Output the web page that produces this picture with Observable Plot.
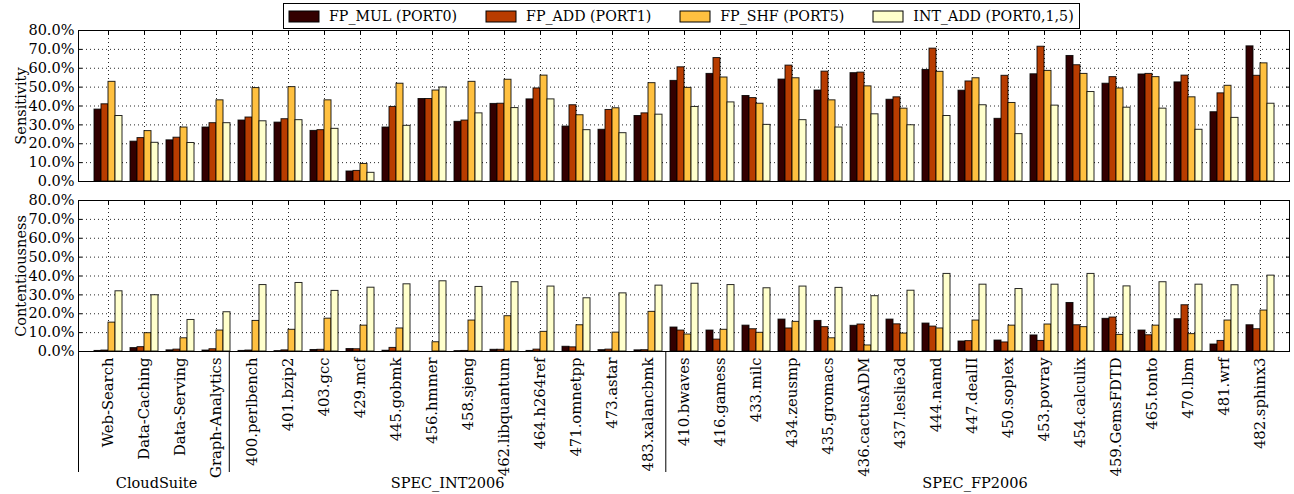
<!DOCTYPE html>
<html><head><meta charset="utf-8">
<script src="https://cdn.jsdelivr.net/npm/d3@7"></script>
<script src="https://cdn.jsdelivr.net/npm/@observablehq/plot@0.6"></script>
<style>
body{margin:0;background:#fff;font-family:"DejaVu Serif",serif;}
#wrap{position:relative;width:1294px;height:494px;overflow:hidden;background:#fff}
#wrap > *{position:absolute;}
#legend{left:283px;top:3px;border:1px solid #000;background:#fff;z-index:5;padding:0 5px;height:26px;display:flex;align-items:center;box-sizing:border-box;white-space:nowrap}
#legend .lg-swatches{margin:0 !important;min-height:0 !important;display:flex;align-items:center;font-family:"DejaVu Serif",serif;font-size:14.2px;color:#000}
#legend .lg-swatch{margin-right:29px !important;display:inline-flex;align-items:center}
#legend .lg-swatch:last-child{margin-right:0 !important}
#legend .lg-swatch > svg{margin-right:10px !important;overflow:visible}
#legend .lg-swatch > svg rect{stroke:#000;stroke-width:1}
</style></head><body><div id="wrap"></div>
<script>
// ---- data ----
const cloudSuite = ["Web-Search", "Data-Caching", "Data-Serving", "Graph-Analytics"];
const specInt = ["400.perlbench", "401.bzip2", "403.gcc", "429.mcf", "445.gobmk", "456.hmmer", "458.sjeng", "462.libquantum", "464.h264ref", "471.omnetpp", "473.astar", "483.xalancbmk"];
const specFp = ["410.bwaves", "416.gamess", "433.milc", "434.zeusmp", "435.gromacs", "436.cactusADM", "437.leslie3d", "444.namd", "447.dealII", "450.soplex", "453.povray", "454.calculix", "459.GemsFDTD", "465.tonto", "470.lbm", "481.wrf", "482.sphinx3"];
const groupNames = ["CloudSuite", "SPEC_INT2006", "SPEC_FP2006"];
const groupMembers = [cloudSuite, specInt, specFp];
const categories = [...cloudSuite, ...specInt, ...specFp];

const series = ["FP_MUL (PORT0)", "FP_ADD (PORT1)", "FP_SHF (PORT5)", "INT_ADD (PORT0,1,5)"];
const seriesColors = ["#330000", "#b83c00", "#ffc040", "#ffffcc"];

// Sensitivity (%)
const sensFpMul = [38.1, 21.1, 21.8, 28.6, 32.3, 31.2, 26.8, 5.3, 28.6, 43.7, 31.6, 41.1, 43.5, 29.1, 27.4, 34.7, 53.3, 57.0, 45.3, 54.0, 48.2, 57.4, 43.3, 59.1, 48.1, 33.2, 56.8, 66.5, 51.8, 56.7, 52.5, 36.7, 71.6];
const sensFpAdd = [40.9, 23.0, 23.2, 30.9, 33.9, 33.0, 27.2, 5.6, 39.5, 43.7, 32.3, 41.2, 49.3, 40.4, 37.9, 36.1, 60.5, 65.4, 44.2, 61.4, 58.2, 57.7, 44.6, 70.4, 53.0, 56.0, 71.4, 61.6, 55.3, 57.0, 56.1, 46.7, 56.0];
const sensFpShf = [52.8, 26.7, 28.6, 43.0, 49.5, 50.0, 43.0, 9.3, 51.8, 48.2, 52.8, 53.9, 56.1, 35.1, 38.8, 52.1, 49.6, 55.1, 41.2, 54.7, 43.0, 50.4, 38.6, 58.1, 54.7, 41.6, 58.6, 57.0, 49.3, 55.3, 44.6, 50.7, 62.6];
const sensIntAdd = [34.7, 20.5, 20.4, 30.9, 31.9, 32.5, 27.9, 4.6, 29.5, 49.8, 36.1, 38.9, 43.5, 27.2, 25.6, 35.4, 39.5, 41.9, 30.0, 32.5, 28.6, 35.6, 29.8, 34.7, 40.4, 25.1, 40.2, 47.4, 39.1, 38.6, 27.4, 33.7, 41.2];

// Contentiousness (%)
const contFpMul = [0.3, 1.8, 0.6, 0.5, 0.3, 0.2, 0.8, 1.3, 0.4, 0.0, 0.2, 0.9, 0.3, 2.5, 0.7, 0.6, 12.7, 11.1, 13.7, 16.9, 16.2, 13.6, 16.9, 14.8, 5.3, 5.8, 8.5, 25.7, 17.3, 11.1, 17.1, 3.7, 13.9];
const contFpAdd = [0.5, 2.3, 1.0, 1.2, 0.5, 0.6, 0.9, 1.2, 1.9, 0.0, 0.3, 0.9, 1.0, 2.2, 1.0, 0.7, 11.1, 6.3, 11.8, 12.2, 12.9, 14.3, 14.4, 13.2, 5.5, 4.8, 5.6, 13.9, 18.0, 8.6, 24.5, 5.6, 11.8];
const contFpShf = [15.3, 9.7, 7.0, 11.1, 16.2, 11.5, 17.4, 13.7, 12.2, 4.9, 16.4, 18.7, 10.4, 13.9, 10.0, 21.0, 9.0, 11.5, 9.9, 15.7, 7.0, 3.2, 9.5, 12.2, 16.4, 13.7, 14.3, 12.9, 8.8, 13.7, 9.2, 16.4, 21.7];
const contIntAdd = [31.9, 29.8, 16.7, 20.8, 35.2, 36.3, 32.1, 33.8, 35.6, 37.2, 34.2, 36.7, 34.4, 28.2, 30.8, 34.9, 35.9, 35.2, 33.5, 34.4, 33.7, 29.3, 32.2, 41.1, 35.4, 33.1, 35.4, 41.1, 34.5, 36.7, 35.4, 35.1, 40.2];

const yTicks = [0, 10, 20, 30, 40, 50, 60, 70, 80];

// ---- build tables ----
function toRows(cols) {
  const rows = [];
  categories.forEach((cat, i) => cols.forEach((col, s) => rows.push({cat, series: series[s], value: col[i]})));
  return rows;
}
const sensRows = toRows([sensFpMul, sensFpAdd, sensFpShf, sensIntAdd]);
const contRows = toRows([contFpMul, contFpAdd, contFpShf, contIntAdd]);

// ---- layout ----
const W = 1294, ML = 78, MR = 5;
const fxPad = 0.145, xPad = 0.458;
const FONT = "DejaVu Serif";
const FS = 14.5, FS_X = 14.8;
const fmt = d => d.toFixed(1) + "%";
const blank = () => "";
const dotted = {stroke: "#000", strokeOpacity: 0.85, strokeWidth: 1, strokeDasharray: "1,3"};
const baseStyle = {fontFamily: FONT, fontSize: FS + "px", color: "#000", background: "transparent", overflow: "visible"};

// background layer: y grid, frame and y axis (not faceted)
function backPanel(label, height, marginTop, marginBottom) {
  return Plot.plot({
    width: W, height, marginLeft: ML, marginRight: MR, marginTop, marginBottom,
    style: baseStyle,
    x: {domain: [0, 1], axis: null},
    y: {domain: [0, 80]},
    marks: [
      Plot.ruleY(yTicks, dotted),
      Plot.frame({stroke: "#000", strokeWidth: 1}),
      Plot.axisY(yTicks, {anchor: "right", tickSize: -4, tickFormat: blank, label: null}),
      Plot.axisY(yTicks, {anchor: "left", tickSize: -4, tickFormat: blank, label: null}),
      Plot.axisY(yTicks, {anchor: "left", tickSize: 0, tickPadding: 4, tickFormat: fmt, fontSize: FS, label, labelAnchor: "center", labelArrow: "none", labelOffset: 63})
    ]
  });
}

// foreground layer: grouped bars faceted by category
function barPanel(rows, height, marginTop, marginBottom, withLabels) {
  const marks = [
    Plot.ruleX(categories, {fx: d => d, x: null, ...dotted}),
    Plot.barY(rows, {fx: "cat", x: "series", y: "value", fill: "series", stroke: "#000", strokeWidth: 1, strokeOpacity: 0.85}),
    Plot.axisFx({anchor: "top", tickSize: -4, tickFormat: blank, label: null})
  ];
  if (withLabels) marks.push(Plot.axisFx({anchor: "bottom", tickRotate: -90, tickSize: 0, tickPadding: 6, fontSize: FS_X, label: null}));
  return Plot.plot({
    width: W, height, marginLeft: ML, marginRight: MR, marginTop, marginBottom,
    style: baseStyle,
    fx: {domain: categories, paddingInner: 0, paddingOuter: fxPad},
    x: {domain: series, paddingInner: 0, paddingOuter: xPad, axis: null},
    y: {domain: [0, 80], axis: null},
    color: {domain: series, range: seriesColors},
    marks
  });
}

const wrap = document.getElementById("wrap");
function place(el, top) { el.style.top = top + "px"; el.style.left = "0px"; wrap.appendChild(el); }

place(backPanel("Sensitivity", 186, 30, 5), 0);
place(barPanel(sensRows, 186, 30, 5, false), 0);
place(backPanel("Contentiousness", 308, 14, 143), 186);
place(barPanel(contRows, 308, 14, 143, true), 186);

// group labels and separators beneath the category labels
let acc = 0;
const groups = groupNames.map((name, i) => {
  const start = acc; acc += groupMembers[i].length;
  return {name, start, end: acc, mid: (start + acc) / 2};
});
const xDomain = [-fxPad, categories.length + fxPad];
const bounds = [xDomain[0], ...groups.slice(1).map(g => g.start)];
const under = Plot.plot({
  width: W, height: 143, marginLeft: ML, marginRight: MR, marginTop: 0, marginBottom: 22,
  style: baseStyle,
  x: {domain: xDomain, axis: null},
  marks: [
    Plot.ruleX(bounds, {stroke: "#000", strokeWidth: 1}),
    Plot.text(groups, {x: "mid", text: "name", frameAnchor: "bottom", dy: 15, fontSize: FS, fill: "#000"})
  ]
});
place(under, 351);

// legend
const lgWrap = document.createElement("div");
lgWrap.id = "legend";
const lg = Plot.legend({color: {domain: series, range: seriesColors}, legend: "swatches", swatchWidth: 30, swatchHeight: 11, className: "lg"});
lgWrap.appendChild(lg);
wrap.appendChild(lgWrap);
</script></body></html>
